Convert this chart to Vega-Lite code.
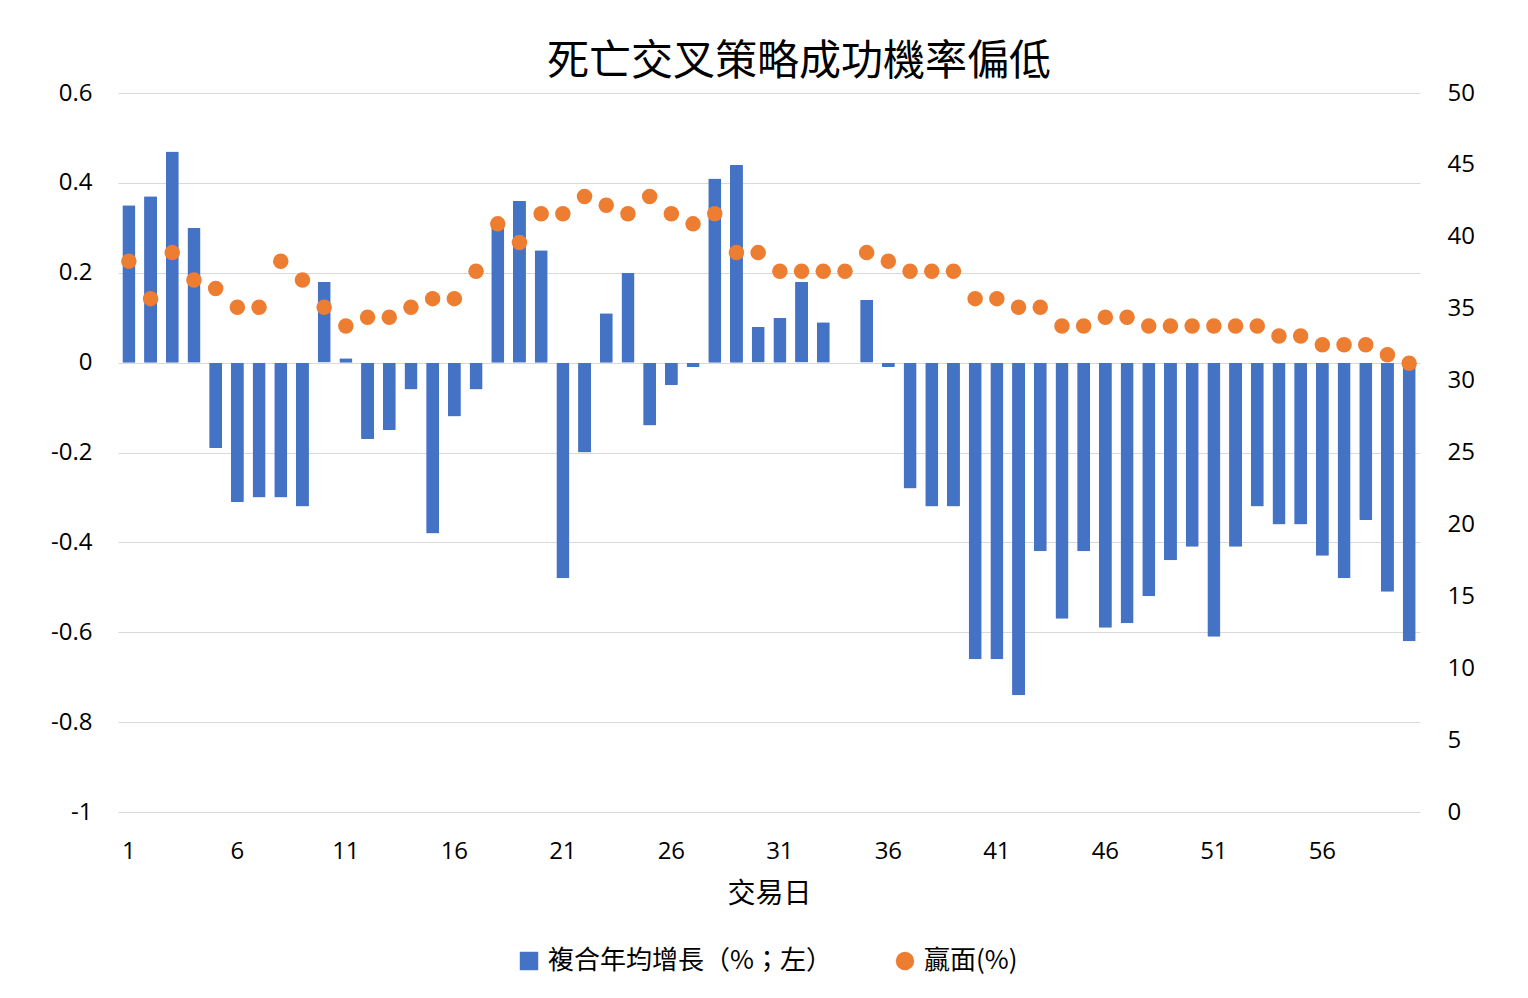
{
  "$schema": "https://vega.github.io/schema/vega-lite/v6.json",
  "width": 1302,
  "height": 719,
  "autosize": {"type": "none"},
  "padding": {"left": 118, "top": 93, "right": 108, "bottom": 186},
  "background": "white",
  "title": {
    "text": "死亡交叉策略成功機率偏低",
    "font": "Noto Sans CJK TC",
    "fontSize": 42,
    "fontWeight": "normal",
    "color": "#000000",
    "anchor": "middle",
    "dx": 30,
    "offset": -3
  },
  "data": {
    "values": [
      {"day": 1, "g": 0.35, "w": 38.3}, {"day": 2, "g": 0.37, "w": 35.7}, {"day": 3, "g": 0.47, "w": 38.9},
      {"day": 4, "g": 0.30, "w": 37.0}, {"day": 5, "g": -0.19, "w": 36.4}, {"day": 6, "g": -0.31, "w": 35.1},
      {"day": 7, "g": -0.30, "w": 35.1}, {"day": 8, "g": -0.30, "w": 38.3}, {"day": 9, "g": -0.32, "w": 37.0},
      {"day": 10, "g": 0.18, "w": 35.1}, {"day": 11, "g": 0.01, "w": 33.8}, {"day": 12, "g": -0.17, "w": 34.4},
      {"day": 13, "g": -0.15, "w": 34.4}, {"day": 14, "g": -0.06, "w": 35.1}, {"day": 15, "g": -0.38, "w": 35.7},
      {"day": 16, "g": -0.12, "w": 35.7}, {"day": 17, "g": -0.06, "w": 37.6}, {"day": 18, "g": 0.31, "w": 40.9},
      {"day": 19, "g": 0.36, "w": 39.6}, {"day": 20, "g": 0.25, "w": 41.6}, {"day": 21, "g": -0.48, "w": 41.6},
      {"day": 22, "g": -0.20, "w": 42.8}, {"day": 23, "g": 0.11, "w": 42.2}, {"day": 24, "g": 0.20, "w": 41.6},
      {"day": 25, "g": -0.14, "w": 42.8}, {"day": 26, "g": -0.05, "w": 41.6}, {"day": 27, "g": -0.01, "w": 40.9},
      {"day": 28, "g": 0.41, "w": 41.6}, {"day": 29, "g": 0.44, "w": 38.9}, {"day": 30, "g": 0.08, "w": 38.9},
      {"day": 31, "g": 0.10, "w": 37.6}, {"day": 32, "g": 0.18, "w": 37.6}, {"day": 33, "g": 0.09, "w": 37.6},
      {"day": 34, "g": 0, "w": 37.6}, {"day": 35, "g": 0.14, "w": 38.9}, {"day": 36, "g": -0.01, "w": 38.3},
      {"day": 37, "g": -0.28, "w": 37.6}, {"day": 38, "g": -0.32, "w": 37.6}, {"day": 39, "g": -0.32, "w": 37.6},
      {"day": 40, "g": -0.66, "w": 35.7}, {"day": 41, "g": -0.66, "w": 35.7}, {"day": 42, "g": -0.74, "w": 35.1},
      {"day": 43, "g": -0.42, "w": 35.1}, {"day": 44, "g": -0.57, "w": 33.8}, {"day": 45, "g": -0.42, "w": 33.8},
      {"day": 46, "g": -0.59, "w": 34.4}, {"day": 47, "g": -0.58, "w": 34.4}, {"day": 48, "g": -0.52, "w": 33.8},
      {"day": 49, "g": -0.44, "w": 33.8}, {"day": 50, "g": -0.41, "w": 33.8}, {"day": 51, "g": -0.61, "w": 33.8},
      {"day": 52, "g": -0.41, "w": 33.8}, {"day": 53, "g": -0.32, "w": 33.8}, {"day": 54, "g": -0.36, "w": 33.1},
      {"day": 55, "g": -0.36, "w": 33.1}, {"day": 56, "g": -0.43, "w": 32.5}, {"day": 57, "g": -0.48, "w": 32.5},
      {"day": 58, "g": -0.35, "w": 32.5}, {"day": 59, "g": -0.51, "w": 31.8}, {"day": 60, "g": -0.62, "w": 31.2}
    ]
  },
  "encoding": {
    "x": {
      "field": "day",
      "type": "ordinal",
      "scale": {"paddingInner": 0.4, "paddingOuter": 0.2},
      "axis": {
        "values": [1, 6, 11, 16, 21, 26, 31, 36, 41, 46, 51, 56],
        "labelAngle": 0,
        "labelPadding": 27,
        "ticks": false,
        "domain": false,
        "title": "交易日",
        "titleFont": "Noto Sans CJK TC",
        "titleFontSize": 28,
        "titleFontWeight": "normal",
        "titleColor": "#000000",
        "titlePadding": 17
      }
    }
  },
  "layer": [
    {
      "mark": {"type": "bar", "cornerRadius": 1},
      "encoding": {
        "y": {
          "field": "g",
          "type": "quantitative",
          "scale": {"domain": [-1, 0.6], "nice": false},
          "axis": {
            "orient": "left",
            "values": [-1, -0.8, -0.6, -0.4, -0.2, 0, 0.2, 0.4, 0.6],
            "labelExpr": "'' + datum.value",
            "labelPadding": 26,
            "grid": true,
            "title": null
          }
        },
        "color": {
          "datum": "複合年均增長（%；左）",
          "scale": {"domain": ["複合年均增長（%；左）", "贏面(%)"], "range": ["#4472C4", "#ED7D31"]},
          "legend": {"title": null}
        }
      }
    },
    {
      "mark": {"type": "point", "filled": true, "opacity": 1, "size": 240},
      "encoding": {
        "y": {
          "field": "w",
          "type": "quantitative",
          "scale": {"domain": [0, 50], "nice": false},
          "axis": {
            "orient": "right",
            "values": [0, 5, 10, 15, 20, 25, 30, 35, 40, 45, 50],
            "labelPadding": 27,
            "grid": false,
            "title": null
          }
        },
        "color": {"datum": "贏面(%)"},
        "shape": {
          "datum": "贏面(%)",
          "scale": {"domain": ["複合年均增長（%；左）", "贏面(%)"], "range": ["square", "circle"]},
          "legend": {"title": null}
        }
      }
    }
  ],
  "resolve": {"scale": {"y": "independent"}},
  "config": {
    "view": {"stroke": null},
    "axis": {
      "labelFont": "Open Sans",
      "labelFontSize": 24,
      "labelColor": "#000000",
      "gridColor": "#d9d9d9",
      "gridWidth": 1,
      "ticks": false,
      "domain": false
    },
    "legend": {
      "orient": "none",
      "legendX": 398,
      "legendY": 855,
      "direction": "horizontal",
      "labelFont": "Noto Sans CJK TC",
      "labelFontSize": 26,
      "labelColor": "#000000",
      "labelLimit": 400,
      "labelOffset": 6,
      "symbolSize": 340,
      "symbolStrokeWidth": 0,
      "columnPadding": 60
    }
  }
}
